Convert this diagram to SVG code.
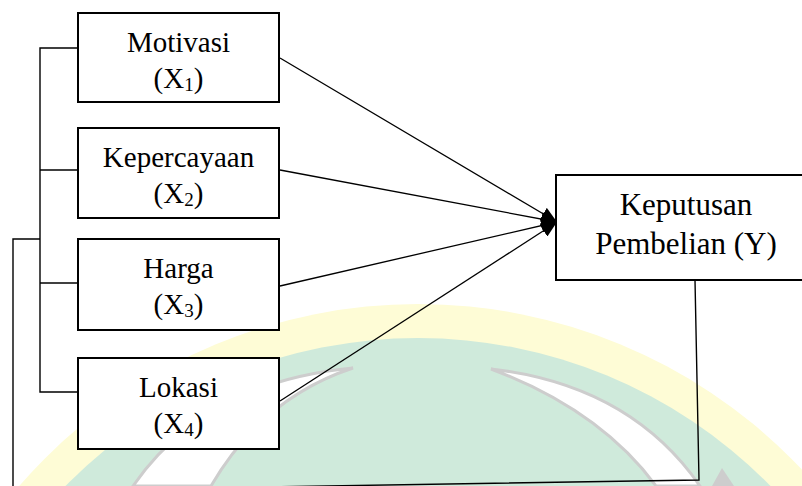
<svg xmlns="http://www.w3.org/2000/svg" width="802" height="486" viewBox="0 0 802 486">
  <style>
    .box { fill: #ffffff; stroke: #000000; stroke-width: 2; }
    .lbl { font-family: "Liberation Serif", "Times New Roman", serif; font-size: 29px; fill: #000000; text-anchor: middle; }
    .lblY { font-family: "Liberation Serif", "Times New Roman", serif; font-size: 31px; fill: #000000; text-anchor: middle; }
    .sub { font-size: 19px; }
    .wire { fill: none; stroke: #000000; stroke-width: 1.4; }
    .arrow { fill: none; stroke: #000000; stroke-width: 1.3; marker-end: url(#ah); }
    .crescent { fill: #ffffff; stroke: #cdcdcd; stroke-width: 3; }
  </style>
  <defs>
    <marker id="ah" viewBox="0 0 16 14" refX="16" refY="7" markerWidth="16" markerHeight="14" markerUnits="userSpaceOnUse" orient="auto">
      <path d="M0,0 L16,7 L0,14 Z" fill="#000000"/>
    </marker>
  </defs>

  <rect x="0" y="0" width="802" height="486" fill="#ffffff"/>

  <!-- faint watermark -->
  <g id="watermark">
    <circle cx="418" cy="832" r="528" fill="#fefcd6"/>
    <circle cx="418" cy="832" r="494" fill="#cfeadb"/>
    <path class="crescent" d="M353,368 Q205,382 133,486 L211,486 Q262,398 353,368 Z"/>
    <path class="crescent" d="M491,369 Q630,385 700,486 L656,486 Q600,410 491,369 Z"/>
    <path d="M712,486 L722,468 L734,486 Z" fill="#cdcdcd"/>
  </g>

  <!-- connectors -->
  <g id="connectors">
    <polyline class="wire" points="78,48 40,48 40,392 78,392"/>
    <line class="wire" x1="40" y1="170" x2="78" y2="170"/>
    <line class="wire" x1="40" y1="283" x2="78" y2="283"/>
    <polyline class="wire" points="40,239 13,239 13,491 699,480 695,280"/>
    <line class="arrow" x1="280" y1="58" x2="557" y2="222"/>
    <line class="arrow" x1="280" y1="170" x2="557" y2="222"/>
    <line class="arrow" x1="280" y1="286" x2="557" y2="222"/>
    <line class="arrow" x1="280" y1="401" x2="557" y2="222"/>
  </g>

  <g id="node-x1">
    <rect class="box" x="78" y="13" width="201" height="89"/>
    <text class="lbl" x="178.5" y="52">Motivasi</text>
    <text class="lbl" x="178.5" y="88">(X<tspan class="sub" dy="3">1</tspan><tspan dy="-3">)</tspan></text>
  </g>

  <g id="node-x2">
    <rect class="box" x="78" y="128" width="201" height="90"/>
    <text class="lbl" x="178.5" y="167">Kepercayaan</text>
    <text class="lbl" x="178.5" y="203">(X<tspan class="sub" dy="3">2</tspan><tspan dy="-3">)</tspan></text>
  </g>

  <g id="node-x3">
    <rect class="box" x="78" y="239" width="201" height="91"/>
    <text class="lbl" x="178.5" y="278">Harga</text>
    <text class="lbl" x="178.5" y="314">(X<tspan class="sub" dy="3">3</tspan><tspan dy="-3">)</tspan></text>
  </g>

  <g id="node-x4">
    <rect class="box" x="78" y="358" width="201" height="91"/>
    <text class="lbl" x="178.5" y="397">Lokasi</text>
    <text class="lbl" x="178.5" y="433">(X<tspan class="sub" dy="3">4</tspan><tspan dy="-3">)</tspan></text>
  </g>

  <g id="node-y">
    <rect class="box" x="556" y="175" width="252" height="105"/>
    <text class="lblY" x="686" y="215">Keputusan</text>
    <text class="lblY" x="686" y="254">Pembelian (Y)</text>
  </g>
</svg>
